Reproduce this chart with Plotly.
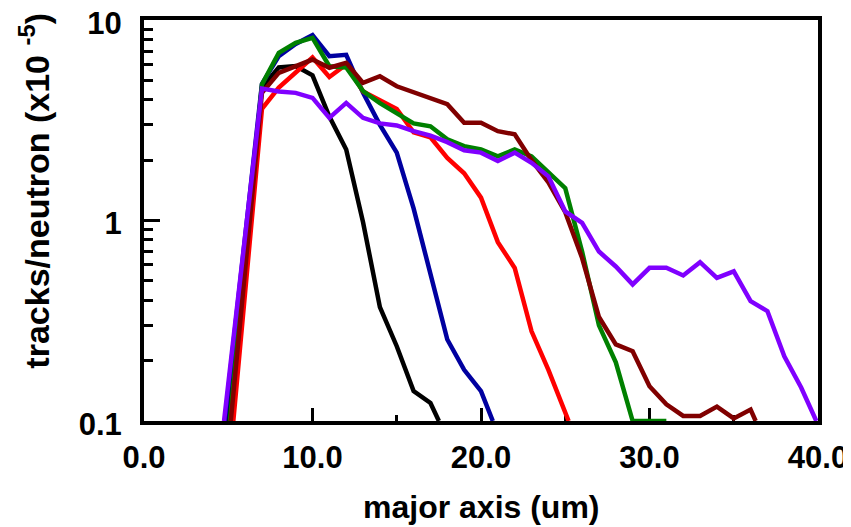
import plotly.graph_objects as go

# ---- data (x in um, y in tracks/neutron x1e-5) ----
black_x = [5.0, 7, 8, 9, 10, 11, 12, 13, 14, 15, 16, 17, 17.5]
black_y = [0.1, 4.6, 5.8, 5.9, 5.3, 3.3, 2.26, 0.98, 0.37, 0.236, 0.141, 0.123, 0.1]

blue_x = [4.8, 7, 8, 9, 10, 11, 12, 13, 14, 15, 16, 17, 18, 19, 20, 20.7]
blue_y = [0.1, 4.8, 6.6, 7.6, 8.4, 6.6, 6.7, 4.33, 3.0, 2.18, 1.15, 0.53, 0.255, 0.18, 0.141, 0.1]

red_x = [5.3, 7, 8, 9, 10, 11, 12, 13, 14, 15, 16, 17, 18, 19, 20, 21, 22, 23, 24, 25.2]
red_y = [0.1, 3.6, 4.6, 5.5, 6.5, 5.2, 6.0, 4.4, 4.0, 3.6, 2.75, 2.6, 2.05, 1.72, 1.3, 0.78, 0.58, 0.28, 0.18, 0.1]

green_x = [5.1, 7, 8, 9, 10, 11, 12, 13, 14, 15, 16, 17, 18, 19, 20, 21, 22, 23, 24, 25, 26, 27, 28, 29, 30, 31]
green_y = [0.1, 4.77, 6.86, 7.7, 8.15, 5.88, 5.8, 4.42, 3.85, 3.45, 3.05, 2.95, 2.54, 2.35, 2.26, 2.09, 2.26, 2.09,
           1.75, 1.45, 0.7, 0.3, 0.196, 0.1, 0.1, 0.1]

darkred_x = [5.15, 7, 8, 9, 10, 11, 12, 13, 14, 15, 16, 17, 18, 19, 20, 21, 22, 23, 24, 25, 26, 27, 28, 29, 30,
             31, 32, 33, 34, 35, 36, 36.3]
darkred_y = [0.1, 4.33, 5.45, 5.88, 6.35, 5.78, 6.12, 4.86, 5.24, 4.67, 4.36, 4.1, 3.8, 3.07, 3.07, 2.79, 2.69,
             2.0, 1.55, 1.1, 0.65, 0.33, 0.241, 0.223, 0.149, 0.121, 0.106, 0.106, 0.118, 0.103, 0.114, 0.1]

purple_x = [4.75, 7, 8, 9, 10, 11, 12, 13, 14, 15, 16, 17, 18, 19, 20, 21, 22, 23, 24, 25, 26, 27, 28, 29, 30,
            31, 32, 33, 34, 35, 36, 37, 38, 39, 39.9]
purple_y = [0.1, 4.55, 4.4, 4.33, 4.09, 3.25, 3.86, 3.25, 3.05, 2.98, 2.79, 2.65, 2.46, 2.24, 2.18, 1.98, 2.18,
            1.94, 1.66, 1.11, 0.974, 0.7, 0.59, 0.48, 0.581, 0.581, 0.532, 0.62, 0.518, 0.558, 0.396, 0.353,
            0.21, 0.147, 0.1]

x_ticks = [0, 10, 20, 30, 40]
x_tick_labels = ["0.0", "10.0", "20.0", "30.0", "40.0"]
x_minor = [5, 15, 25, 35]
y_ticks = [0.1, 1, 10]
y_tick_labels = ["0.1", "1", "10"]
y_minor = [0.2, 0.3, 0.4, 0.5, 0.6, 0.7, 0.8, 0.9, 2, 3, 4, 5, 6, 7, 8, 9]

series = [
    (black_x, black_y, "#000000"),
    (blue_x, blue_y, "#0000A0"),
    (red_x, red_y, "#FF0000"),
    (green_x, green_y, "#008000"),
    (darkred_x, darkred_y, "#800000"),
    (purple_x, purple_y, "#8000FF"),
]

fig = go.Figure()
for xs, ys, c in series:
    fig.add_trace(go.Scatter(x=xs, y=ys, mode="lines", line=dict(color=c, width=4.5), showlegend=False))

font_family = "Liberation Sans, Arial, sans-serif"
tick_font = dict(family=font_family, size=31, color="black", weight="bold")
title_font = dict(family=font_family, size=32, color="black", weight="bold")
ytitle_font = dict(family=font_family, size=34, color="black", weight="bold")

# page body has an 8px margin, so the figure is sized/offset to keep the plot area in place
fig.update_layout(
    width=843, height=519,
    margin=dict(l=136, r=33, t=12, b=106, autoexpand=False),
    paper_bgcolor="white", plot_bgcolor="white",
    showlegend=False,
    xaxis=dict(
        range=[0, 40], tickvals=x_ticks, ticktext=x_tick_labels,
        ticks="inside", ticklen=13, tickwidth=3, tickcolor="black",
        showline=True, linewidth=4, linecolor="black", mirror=True,
        showgrid=False, zeroline=False, tickfont=tick_font, ticklabelstandoff=6,
        ticklabeloverflow="allow",
        layer="below traces", automargin=False,
        minor=dict(tickvals=x_minor, ticks="inside", ticklen=6, tickwidth=3, tickcolor="black", showgrid=False),
    ),
    yaxis=dict(
        type="log", range=[-1, 1], tickvals=y_ticks, ticktext=y_tick_labels,
        ticks="inside", ticklen=16, tickwidth=3, tickcolor="black",
        showline=True, linewidth=4, linecolor="black", mirror=True,
        showgrid=False, zeroline=False, tickfont=tick_font, ticklabelstandoff=12,
        ticklabelshift=3, ticklabeloverflow="allow",
        layer="below traces", automargin=False,
        minor=dict(tickvals=y_minor, ticks="inside", ticklen=9, tickwidth=3, tickcolor="black", showgrid=False),
    ),
    annotations=[
        dict(text="major axis (um)", xref="paper", yref="paper", x=0.5, y=-0.215,
             xanchor="center", yanchor="middle", showarrow=False, font=title_font),
        dict(text="tracks/neutron (x10 <sup>-5</sup>)", xref="paper", yref="paper", x=-0.162, y=0.574,
             xanchor="center", yanchor="middle", textangle=-90, showarrow=False, font=ytitle_font),
    ],
)

fig.write_html("out.html")
